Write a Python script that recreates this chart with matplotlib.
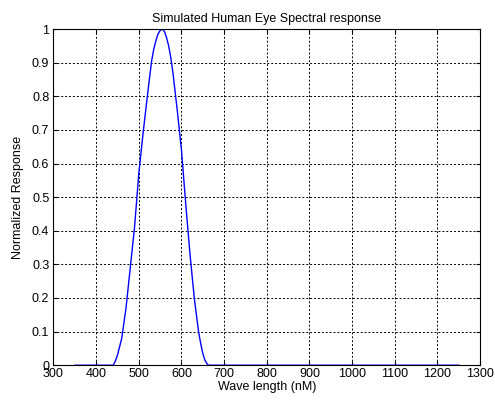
import matplotlib
matplotlib.use('Agg')
import matplotlib.pyplot as plt

# Values
wavelength = [350, 440, 445, 450, 460, 470, 480, 490, 500, 510, 520, 530, 535, 540, 545,
              550, 555, 560, 565, 570, 575, 580, 590, 600, 610, 620, 630, 640, 645,
              650, 655, 660, 663, 1250]
response = [0, 0, 0.012, 0.03, 0.08, 0.17, 0.29, 0.41, 0.57, 0.69, 0.80, 0.905, 0.94,
            0.965, 0.985, 0.996, 1.0, 0.993, 0.975, 0.95, 0.915, 0.87, 0.76, 0.64,
            0.48, 0.33, 0.20, 0.10, 0.065, 0.035, 0.015, 0.004, 0, 0]

x_ticks = list(range(300, 1301, 100))
y_ticks = [0, 0.1, 0.2, 0.3, 0.4, 0.5, 0.6, 0.7, 0.8, 0.9, 1]
y_labels = ['0', '0.1', '0.2', '0.3', '0.4', '0.5', '0.6', '0.7', '0.8', '0.9', '1']

plt.rcParams['font.family'] = ['Liberation Sans', 'DejaVu Sans']
plt.rcParams['font.size'] = 9

fig = plt.figure(figsize=(4.95, 4.04), dpi=100)
ax = fig.add_axes([0.108, 0.096, 0.862, 0.832])

ax.plot(wavelength, response, color='#0000ff', linewidth=1.0)

ax.set_xlim(300, 1300)
ax.set_ylim(0, 1)
ax.set_xticks(x_ticks)
ax.set_yticks(y_ticks)
ax.set_yticklabels(y_labels)
ax.tick_params(direction='in', length=3, width=0.8, top=True, right=True)
ax.tick_params(axis='x', pad=2)
ax.tick_params(axis='y', pad=3)
ax.grid(True, color='black', linestyle=(0, (2, 2)), linewidth=0.7)

for sp in ax.spines.values():
    sp.set_linewidth(0.8)

ax.set_title('Simulated Human Eye Spectral response', fontsize=9, pad=5)
ax.set_xlabel('Wave length (nM)', labelpad=1)
ax.set_ylabel('Normalized Response', labelpad=6)

fig.savefig('out.png', dpi=100)
